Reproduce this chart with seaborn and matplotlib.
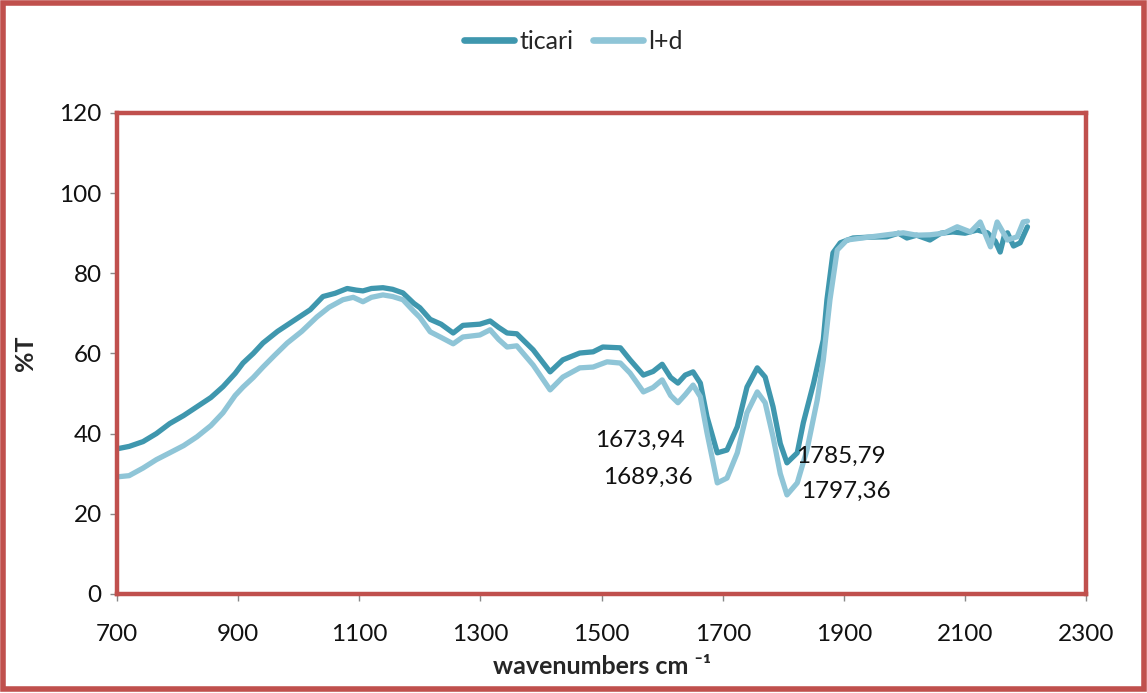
import pandas as pd
import matplotlib
matplotlib.use('Agg')
import matplotlib.pyplot as plt
import seaborn as sns
from matplotlib.patches import Rectangle
from matplotlib.lines import Line2D

# ticari spectrum (wavenumber, %T)
ticari_x = [700, 720, 743, 765, 787, 810, 832, 855, 875, 895, 908, 925, 941, 965, 986, 1000,
            1019, 1040, 1060, 1080, 1095, 1106, 1120, 1139, 1155, 1172, 1190, 1200, 1217, 1235,
            1255, 1271, 1299, 1316, 1330, 1344, 1360, 1387, 1415, 1436, 1464, 1486, 1502, 1531,
            1547, 1569, 1585, 1600, 1614, 1626, 1638, 1651, 1663, 1674, 1691, 1707, 1724, 1740,
            1757, 1770, 1783, 1795, 1806, 1823, 1833, 1850, 1866, 1872, 1882, 1894, 1915, 1940,
            1971, 1990, 2004, 2020, 2042, 2060, 2080, 2100, 2120, 2137, 2150, 2158, 2165, 2170,
            2180, 2191, 2203]
ticari_y = [36.2, 36.8, 38.0, 40.0, 42.5, 44.5, 46.7, 49.0, 51.7, 55.0, 57.6, 60.0, 62.6, 65.5,
            67.6, 69.0, 70.9, 74.2, 75.0, 76.2, 75.8, 75.6, 76.2, 76.4, 76.0, 75.1, 72.5, 71.4,
            68.5, 67.3, 65.1, 67.0, 67.3, 68.1, 66.5, 65.1, 64.9, 60.9, 55.4, 58.4, 60.1, 60.4,
            61.6, 61.4, 58.4, 54.6, 55.5, 57.3, 54.0, 52.6, 54.6, 55.4, 52.6, 44.2, 35.2, 35.9,
            41.7, 51.6, 56.4, 54.1, 46.7, 37.5, 32.7, 35.2, 42.7, 52.6, 63.4, 73.4, 85.1, 87.6,
            88.8, 89.0, 89.1, 90.0, 88.8, 89.5, 88.3, 90.0, 90.3, 90.0, 90.8, 90.1, 88.0, 85.3,
            89.5, 90.1, 86.8, 87.6, 91.6]

# l+d spectrum
ld_x = [700, 720, 743, 765, 787, 810, 832, 855, 875, 895, 908, 925, 941, 960, 981, 1005, 1030,
        1050, 1073, 1090, 1106, 1120, 1139, 1155, 1172, 1190, 1200, 1217, 1235, 1255, 1271, 1299,
        1316, 1330, 1344, 1360, 1387, 1415, 1436, 1464, 1486, 1509, 1531, 1547, 1569, 1585, 1600,
        1614, 1626, 1638, 1651, 1663, 1674, 1691, 1707, 1724, 1740, 1757, 1770, 1783, 1795, 1806,
        1823, 1839, 1856, 1866, 1877, 1889, 1905, 1940, 1971, 1998, 2020, 2042, 2065, 2087, 2109,
        2125, 2142, 2153, 2170, 2186, 2196, 2203]
ld_y = [29.2, 29.5, 31.4, 33.5, 35.2, 37.0, 39.2, 42.0, 45.2, 49.5, 51.6, 54.0, 56.6, 59.5, 62.6,
        65.5, 69.1, 71.5, 73.4, 74.0, 72.9, 74.0, 74.6, 74.2, 73.4, 70.5, 69.0, 65.4, 64.0, 62.4,
        64.1, 64.6, 65.9, 63.5, 61.6, 61.9, 57.1, 50.9, 54.1, 56.4, 56.6, 57.9, 57.6, 55.1, 50.4,
        51.5, 53.4, 49.5, 47.7, 49.7, 52.1, 49.2, 40.2, 27.7, 28.9, 35.2, 45.2, 50.4, 47.7, 39.2,
        30.0, 24.7, 27.7, 35.9, 48.4, 58.4, 73.4, 85.8, 88.3, 89.0, 89.6, 90.1, 89.5, 89.6, 90.0,
        91.6, 90.3, 92.8, 86.6, 92.8, 88.3, 89.1, 92.8, 93.0]

series_names = ['ticari', 'l+d']
colors = ['#3F97AE', '#8FC5D7']

peak_labels = ['1673,94', '1689,36', '1785,79', '1797,36']
peak_pos = [(1563, 38.4), (1576, 29.2), (1895, 34.2), (1904, 25.7)]

df = pd.concat([
    pd.DataFrame({'x': ticari_x, 'y': ticari_y, 'sample': 'ticari'}),
    pd.DataFrame({'x': ld_x, 'y': ld_y, 'sample': 'l+d'}),
], ignore_index=True)

sns.set_style('white')
plt.rcParams['font.family'] = ['Lato', 'DejaVu Sans']

fig = plt.figure(figsize=(11.47, 6.93), dpi=100)
ax = fig.add_axes([0.102, 0.143, 0.845, 0.694])

sns.lineplot(data=df, x='x', y='y', hue='sample', hue_order=series_names,
             palette=colors, sort=False, linewidth=3.8, ax=ax, legend=False)

ax.set_xlim(700, 2300)
ax.set_ylim(0, 120)
ax.set_xticks(range(700, 2301, 200))
ax.set_yticks(range(0, 121, 20))
ax.tick_params(axis='both', direction='out', length=5, width=1, color='#888888',
               labelsize=17.5, labelcolor='#111111', bottom=True, left=True, pad=6)
ax.tick_params(axis='x', pad=17)
for s in ax.spines.values():
    s.set_color('#C0504D')
    s.set_linewidth(3.2)

ax.set_xlabel('wavenumbers cm ⁻¹', fontsize=18, fontweight='bold', labelpad=7)
ax.set_ylabel('%T', fontsize=18, fontweight='bold', labelpad=16)

for lab, (px, py) in zip(peak_labels, peak_pos):
    ax.text(px, py, lab, ha='center', va='center', fontsize=17.5, color='#111111')

handles = [Line2D([], [], color=c, lw=4.8) for c in colors]
fig.legend(handles, series_names, loc='center', bbox_to_anchor=(0.5, 0.94), ncol=2,
           frameon=False, fontsize=18, handlelength=2.0, handletextpad=0.2, columnspacing=0.8)

fig.patches.append(Rectangle((0.003, 0.006), 0.994, 0.99, transform=fig.transFigure,
                             fill=False, edgecolor='#C0504D', linewidth=4))

fig.savefig('out.png', dpi=100)
